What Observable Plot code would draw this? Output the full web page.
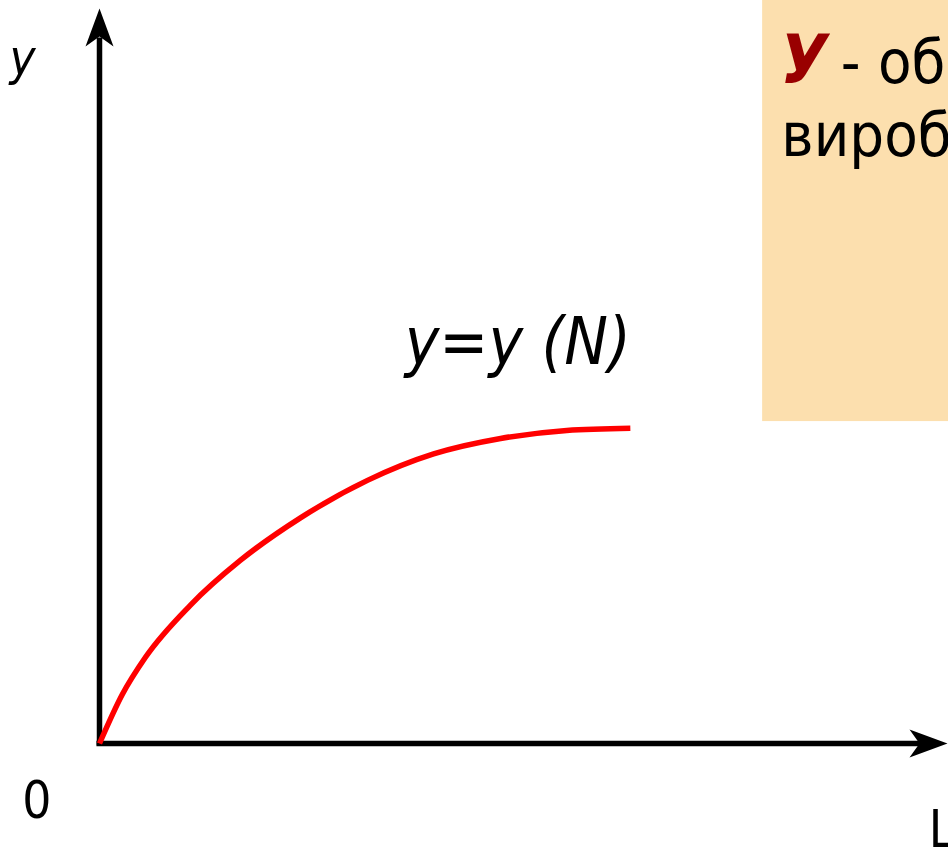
<!DOCTYPE html>
<html>
<head>
<meta charset="utf-8">
<script src="https://cdn.jsdelivr.net/npm/d3@7"></script>
<script src="https://cdn.jsdelivr.net/npm/@observablehq/plot@0.6"></script>
<style>
  html, body { margin: 0; padding: 0; background: #fff; overflow: hidden; }
  #chart svg { display: block; }
  [aria-label="box-line2"], [aria-label="box-line2"] text { letter-spacing: 4px; }
</style>
</head>
<body>
<div id="chart"></div>
<script>
// Curve y = y(N) (axis units 0..100)
const curveN = [0, 2.7, 5.4, 10.7, 16.6, 23.7, 31.6, 39.4, 47.3, 55.1, 62.6];
const curveY = [0, 6.7, 11.7, 18.8, 24.9, 30.7, 35.8, 39.4, 41.5, 42.6, 42.9];

// Axis ends (arrow tips)
const axisTipX = [0, 100];
const axisTipY = [100, 0];
const axisTipRotate = [0, 90];

// Labels
const labelText = ["y", "0", "L", "y=y (N)"];
const labelX = [-10.6, -9.1, 97.8, 36.0];
const labelY = [91.0, -10.1, -14.1, 51.7];

// Note box (beige) and its text
const boxX1 = [78.2];
const boxX2 = [101];
const boxY1 = [43.8];
const boxY2 = [102];
const boxLetter = ["У"];
const boxLine1 = ["- об"];
const boxLine2 = ["вироб"];

const curve = curveN.map((n, i) => ({n, y: curveY[i]}));
const tips = axisTipX.map((x, i) => ({x, y: axisTipY[i], r: axisTipRotate[i]}));
const labels = labelText.map((t, i) => ({t, x: labelX[i], y: labelY[i]}));
const box = boxX1.map((x1, i) => ({x1, x2: boxX2[i], y1: boxY1[i], y2: boxY2[i]}));

const arrowHead = {
  draw(ctx) {
    ctx.moveTo(0, 0);
    ctx.lineTo(14, 38);
    ctx.lineTo(0, 28);
    ctx.lineTo(-14, 38);
    ctx.closePath();
  }
};

const FONT = "'DejaVu Sans Condensed', 'DejaVu Sans', sans-serif";

const chart = Plot.plot({
  width: 948,
  height: 847,
  marginTop: 0, marginRight: 0, marginBottom: 0, marginLeft: 0,
  style: {background: "#fff", fontFamily: FONT, overflow: "hidden"},
  x: {domain: [0, 100], range: [99, 947], axis: null},
  y: {domain: [0, 100], range: [743, 8], axis: null},
  marks: [
    Plot.rect(box, {x1: "x1", x2: "x2", y1: "y1", y2: "y2", fill: "#fcdfae"}),
    Plot.ruleX([0], {y1: -0.3, y2: 96, stroke: "#000", strokeWidth: 5.5}),
    Plot.ruleY([0], {x1: -0.3, x2: 97, stroke: "#000", strokeWidth: 5.5}),
    Plot.dot(tips, {x: "x", y: "y", rotate: "r", symbol: arrowHead, fill: "#000", stroke: null, r: 10}),
    Plot.line(curve, {x: "n", y: "y", stroke: "#ff0000", strokeWidth: 5.5, curve: "monotone-x", strokeLinecap: "butt"}),
    Plot.text(labels.slice(0, 1), {x: "x", y: "y", text: "t", textAnchor: "start", lineAnchor: "bottom", fontSize: 49, fontStyle: "italic", fill: "#000"}),
    Plot.text(labels.slice(1, 3), {x: "x", y: "y", text: "t", textAnchor: "start", lineAnchor: "bottom", fontSize: 51, fill: "#000"}),
    Plot.text(labels.slice(3), {x: "x", y: "y", text: "t", textAnchor: "start", lineAnchor: "bottom", fontSize: 65, fontStyle: "italic", fill: "#000"}),
    Plot.text(boxLetter, {x: 80.3, y: 89.9, text: d => d, textAnchor: "start", lineAnchor: "bottom", fontSize: 68, fontWeight: "bold", fontStyle: "italic", fill: "#990000"}),
    Plot.text(boxLine1, {x: 87.4, y: 89.9, text: d => d, textAnchor: "start", lineAnchor: "bottom", fontSize: 61, fill: "#000"}),
    Plot.text(boxLine2, {x: 80.4, y: 80.0, text: d => d, textAnchor: "start", lineAnchor: "bottom", fontSize: 61, fill: "#000", ariaLabel: "box-line2"})
  ]
});
document.getElementById("chart").appendChild(chart);
</script>
</body>
</html>
